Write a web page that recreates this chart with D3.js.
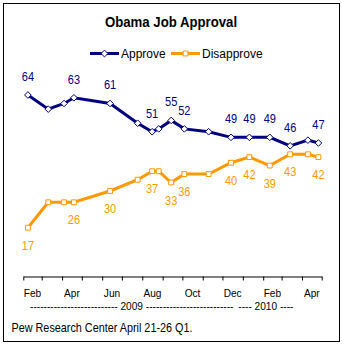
<!DOCTYPE html>
<html>
<head>
<meta charset="utf-8">
<script src="https://cdn.jsdelivr.net/npm/d3@7"></script>
<style>
  body { margin: 0; background: #fff; }
  svg { display: block; font-family: Arial, "Liberation Sans", sans-serif; }
</style>
</head>
<body>
<div id="chart"></div>
<script>
  // survey dates (field period end), Pew Research
  const surveyDates = ['2009-02-08', '2009-03-11', '2009-04-04', '2009-04-19', '2009-06-13',
    '2009-07-25', '2009-08-16', '2009-08-26', '2009-09-14', '2009-10-04', '2009-11-10',
    '2009-12-14', '2010-01-11', '2010-02-11', '2010-03-14', '2010-04-10', '2010-04-26'];
  const approve    = [64, 59, 61, 63, 61, 54, 51, 52, 55, 52, 51, 49, 49, 49, 46, 48, 47];
  const disapprove = [17, 26, 26, 26, 30, 34, 37, 37, 33, 36, 36, 40, 42, 39, 43, 43, 42];
  // which points get a value label
  const labelled   = [1, 0, 0, 1, 1, 0, 1, 0, 1, 1, 0, 1, 1, 1, 1, 0, 1];
  const monthLabels = ['Feb', 'Apr', 'Jun', 'Aug', 'Oct', 'Dec', 'Feb', 'Apr'];
  const yearLabels = [
    { text: '-------------------------- 2009 --------------------------', center: '2009-07-16' },
    { text: '---- 2010 ----', center: '2010-02-05' }
  ];

  const W = 342, H = 346;
  const navy = '#000080', orange = '#FF9900';
  const squeeze = 0.88; // the original type is a bit narrow

  const parse = d3.timeParse('%Y-%m-%d');
  const dates = surveyDates.map(parse);

  const x = d3.scaleTime()
    .domain([parse('2009-02-01'), parse('2010-05-01')])
    .range([23.3, 321.7]);
  const y = d3.scaleLinear()
    .domain([0, 64])
    .range([275.7, 95]);

  const svg = d3.select('#chart').append('svg')
    .attr('width', W).attr('height', H);

  // narrow text placed at (px, py)
  const place = (px, py) => `translate(${px},${py}) scale(${squeeze},1)`;

  svg.append('rect')
    .attr('x', 3.5).attr('y', 3.5)
    .attr('width', 336).attr('height', 338)
    .attr('fill', '#fff').attr('stroke', '#000');

  svg.append('text')
    .attr('transform', place(171, 26.5))
    .attr('text-anchor', 'middle')
    .style('font-size', '15px').style('font-weight', 'bold')
    .text('Obama Job Approval');

  // legend
  const legend = [
    { name: 'Approve', color: navy, x: 90, shape: d3.symbolDiamond2 },
    { name: 'Disapprove', color: orange, x: 171, shape: d3.symbolSquare2 }
  ];
  const lg = svg.append('g').selectAll('g').data(legend).join('g');
  lg.append('line')
    .attr('x1', d => d.x).attr('x2', d => d.x + 29)
    .attr('y1', 53.5).attr('y2', 53.5)
    .attr('stroke', d => d.color).attr('stroke-width', 3);
  lg.append('path')
    .attr('transform', d => `translate(${d.x + 14.5},53.5)`)
    .attr('d', d => d3.symbol(d.shape, 30)())
    .attr('fill', '#fff').attr('stroke', d => d.color).attr('stroke-width', 1);
  lg.append('text')
    .attr('x', d => d.x + 31).attr('y', 57.5)
    .style('font-size', '12px')
    .text(d => d.name);

  // x axis: month ticks
  const months = d3.timeMonth.range(x.domain()[0], d3.timeDay.offset(x.domain()[1], 1));
  const axis = svg.append('g')
    .attr('transform', 'translate(0,276.5)')
    .call(d3.axisBottom(x).tickValues(months).tickFormat('').tickSize(4).tickSizeOuter(0));
  axis.select('.domain').attr('stroke', '#000');
  axis.selectAll('.tick line').attr('stroke', '#000');

  const labelMonths = months.filter((m, i) => i % 2 === 0 && i < months.length - 1);
  svg.append('g').selectAll('text')
    .data(labelMonths)
    .join('text')
    .attr('transform', d => place((x(d) + x(d3.timeMonth.offset(d, 1))) / 2, 296.5))
    .attr('text-anchor', 'middle')
    .style('font-size', '11.5px')
    .text((d, i) => monthLabels[i]);

  svg.append('g').selectAll('text')
    .data(yearLabels)
    .join('text')
    .attr('transform', d => place(x(parse(d.center)), 310))
    .attr('text-anchor', 'middle')
    .style('font-size', '11.5px')
    .text(d => d.text);

  svg.append('text')
    .attr('transform', place(11.5, 331.5))
    .style('font-size', '12.3px')
    .text('Pew Research Center April 21-26 Q1.');

  // series
  const series = [
    { values: approve, color: navy, shape: d3.symbolDiamond2, size: 28, dy: -14 },
    { values: disapprove, color: orange, shape: d3.symbolSquare2, size: 30, dy: 22 }
  ];

  const line = d3.line()
    .x((d, i) => x(dates[i]))
    .y(d => y(d));

  series.forEach(s => {
    const g = svg.append('g');
    g.append('path')
      .datum(s.values)
      .attr('d', line)
      .attr('fill', 'none')
      .attr('stroke', s.color)
      .attr('stroke-width', 3);
    g.selectAll('.mark')
      .data(s.values)
      .join('path')
      .attr('class', 'mark')
      .attr('transform', (d, i) => `translate(${x(dates[i])},${y(d)})`)
      .attr('d', d3.symbol(s.shape, s.size)())
      .attr('fill', '#fff')
      .attr('stroke', s.color)
      .attr('stroke-width', 1);
    g.selectAll('.val')
      .data(s.values.map((v, i) => ({ v, i })).filter(d => labelled[d.i]))
      .join('text')
      .attr('class', 'val')
      .attr('transform', d => place(x(dates[d.i]), y(d.v) + s.dy))
      .attr('text-anchor', 'middle')
      .attr('fill', s.color)
      .style('font-size', '12.5px')
      .text(d => d.v);
  });
</script>
</body>
</html>
